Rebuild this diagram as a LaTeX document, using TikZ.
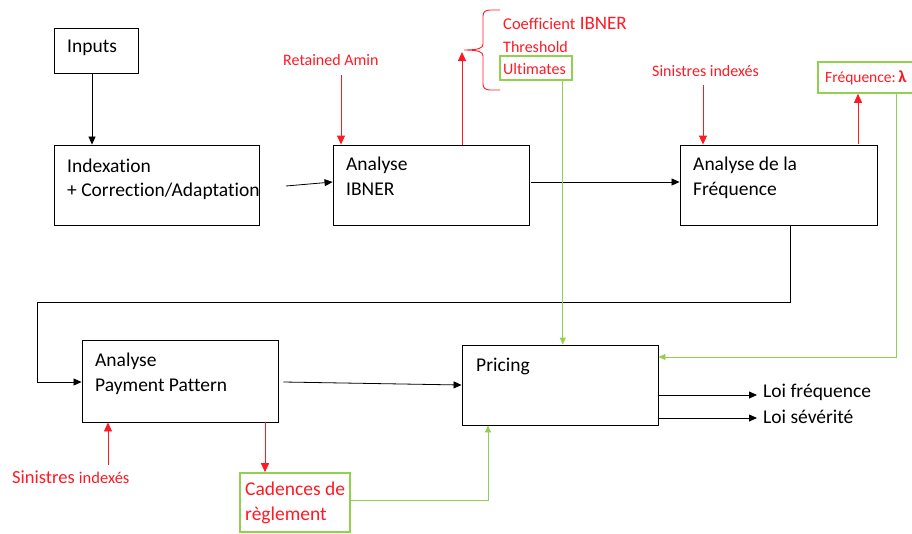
\documentclass[tikz,border=0pt]{standalone}
\usepackage{fontspec}
\setmainfont{Carlito}[Ligatures=NoCommon]
\usetikzlibrary{arrows.meta}
\definecolor{rd}{RGB}{255,25,35}
\definecolor{gr}{RGB}{146,208,80}
\begin{document}
\begin{tikzpicture}[x=1pt,y=-1pt,
  box/.style={draw,line width=0.9pt,inner sep=0},
  gbox/.style={draw=gr,line width=1.6pt,inner sep=0},
  txt/.style={anchor=base west,inner sep=0,font=\fontsize{19.5}{22}\selectfont},
  rtxt/.style={anchor=base west,inner sep=0,text=rd,font=\fontsize{16}{18}\selectfont},
  blk/.style={-{Triangle[length=8pt,width=7pt]},line width=0.8pt},
  rarr/.style={draw=rd,-{Triangle[length=9pt,width=8pt]},line width=0.9pt},
  garr/.style={draw=gr,-{Triangle[length=7pt,width=6pt]},line width=0.9pt}
]
\useasboundingbox (0,0) rectangle (912,533);
\clip (0,0) rectangle (912,533);

% boxes
\node[box,minimum width=84pt,minimum height=45pt] (inp) at (96,50.5) {};
\node[box,minimum width=205pt,minimum height=80pt] (idx) at (156.5,185) {};
\node[box,minimum width=196pt,minimum height=80pt] (ibner) at (431,185) {};
\node[box,minimum width=197pt,minimum height=80pt] (freq) at (778.5,185) {};
\node[box,minimum width=196pt,minimum height=82pt] (pay) at (180,381) {};
\node[box,minimum width=196pt,minimum height=80pt] (pric) at (560,385) {};
\node[gbox,minimum width=72pt,minimum height=24pt] (ult) at (536,68) {};
\node[gbox,minimum width=142pt,minimum height=31pt] (lam) at (889,77.5) {};
\node[gbox,minimum width=110pt,minimum height=59pt] (cad) at (295,502.5) {};

% box texts
\node[txt] (tinp) at (67,52) {Inputs};
\node[txt] (tidx1) at (67,172) {Indexation};
\node[txt] (tidx2) at (67,196) {+ Correction/Adaptation};
\node[txt] (tib1) at (346,170) {Analyse};
\node[txt] (tib2) at (346,195) {IBNER};
\node[txt] (tfr1) at (693,170) {Analyse de la};
\node[txt] (tfr2) at (693,195) {Fréquence};
\node[txt] (tpa1) at (95,366) {Analyse};
\node[txt] (tpa2) at (95,391) {Payment Pattern};
\node[txt] (tpr) at (476,371) {Pricing};
\node[txt] (lf) at (763,397) {Loi fréquence};
\node[txt] (ls) at (763,423) {Loi sévérité};

% red labels
\node[rtxt] (ram) at (283,65) {Retained Amin};
\node[rtxt,font=\fontsize{19}{21}\selectfont] (coef) at (503,29) {{\fontsize{16.5}{18}\selectfont Coefficient} IBNER};
\node[rtxt] (thr) at (503,52) {Threshold};
\node[rtxt] (tult) at (503,74) {Ultimates};
\node[rtxt] (sin1) at (652,76) {Sinistres indexés};
\node[rtxt,font=\fontsize{15.5}{18}\selectfont] (tlam) at (825,82) {Fréquence:\,{\fontsize{17}{20}\selectfont\textbf{λ}}};
\node[rtxt,font=\fontsize{18.5}{21}\selectfont] (sin2) at (12,483) {Sinistres {\fontsize{16.5}{18}\selectfont indexés}};
\node[rtxt,font=\fontsize{19.5}{22}\selectfont] (tcad1) at (245,495) {Cadences de};
\node[rtxt,font=\fontsize{19.5}{22}\selectfont] (tcad2) at (245,520) {règlement};

% brace
\draw[rd,line width=0.9pt] (500,10) -- (490,10) .. controls (485.5,10) and (483,12) .. (483,16)
  -- (483,44) .. controls (483,48) and (479,50) .. (464,50)
  .. controls (479,50) and (483,52) .. (483,56) -- (483,84)
  .. controls (483,88) and (485.5,90) .. (490,90) -- (500,90);
\coordinate (bt) at (462,52);

% black connectors
\draw[blk] ([xshift=-4pt]inp.south) -- ([xshift=-64.5pt]idx.north);
\coordinate (a1) at (286,186);
\draw[blk] (a1) -- ([yshift=3pt]ibner.west);
\draw[blk] ([xshift=2pt,yshift=3pt]ibner.east) -- ([yshift=3pt]freq.west);
\coordinate (f2) at (790,302);
\coordinate (f3) at (37,302);
\coordinate (f4) at (37,382);
\draw[blk] ([xshift=11.5pt]freq.south) -- (f2) -- (f3) -- (f4) -- (f4 -| pay.west);
\draw[blk] ([xshift=5pt,yshift=-1pt]pay.east) -- (pric.west);
\draw[blk] ([yshift=-10pt]pric.east) -- ([yshift=-10pt,xshift=-6pt]pric.east -| lf.west);
\draw[blk] ([yshift=-33pt]pric.east) -- ([yshift=-33pt,xshift=-6pt]pric.east -| ls.west);

% red connectors
\coordinate (r1) at (341,75);
\draw[rarr] (r1) -- (r1 |- ibner.north);
\draw[rarr] ([xshift=31pt]ibner.north) -- (bt);
\coordinate (r2) at (703,85);
\draw[rarr] (r2) -- (r2 |- freq.north);
\draw[rarr] ([xshift=79.5pt,yshift=1pt]freq.north) -- ([xshift=79.5pt]freq.north |- lam.south);
\coordinate (r3) at (108,465);
\draw[rarr] (r3) -- (r3 |- pay.south);
\draw[rarr] ([xshift=85pt]pay.south) -- ([xshift=85pt]pay.south |- cad.north);

% green connectors
\coordinate (u1) at ([xshift=-10pt]ult.south east);
\draw[garr] (u1) -- (u1 |- pric.north);
\coordinate (l1) at (896,93);
\coordinate (l2) at (896,357);
\draw[garr] (l1) -- (l2) -- (l2 -| pric.east);
\coordinate (c1) at (488,500);
\draw[garr] (cad.east |- c1) -- (c1) -- (c1 |- pric.south);
\end{tikzpicture}
\end{document}
